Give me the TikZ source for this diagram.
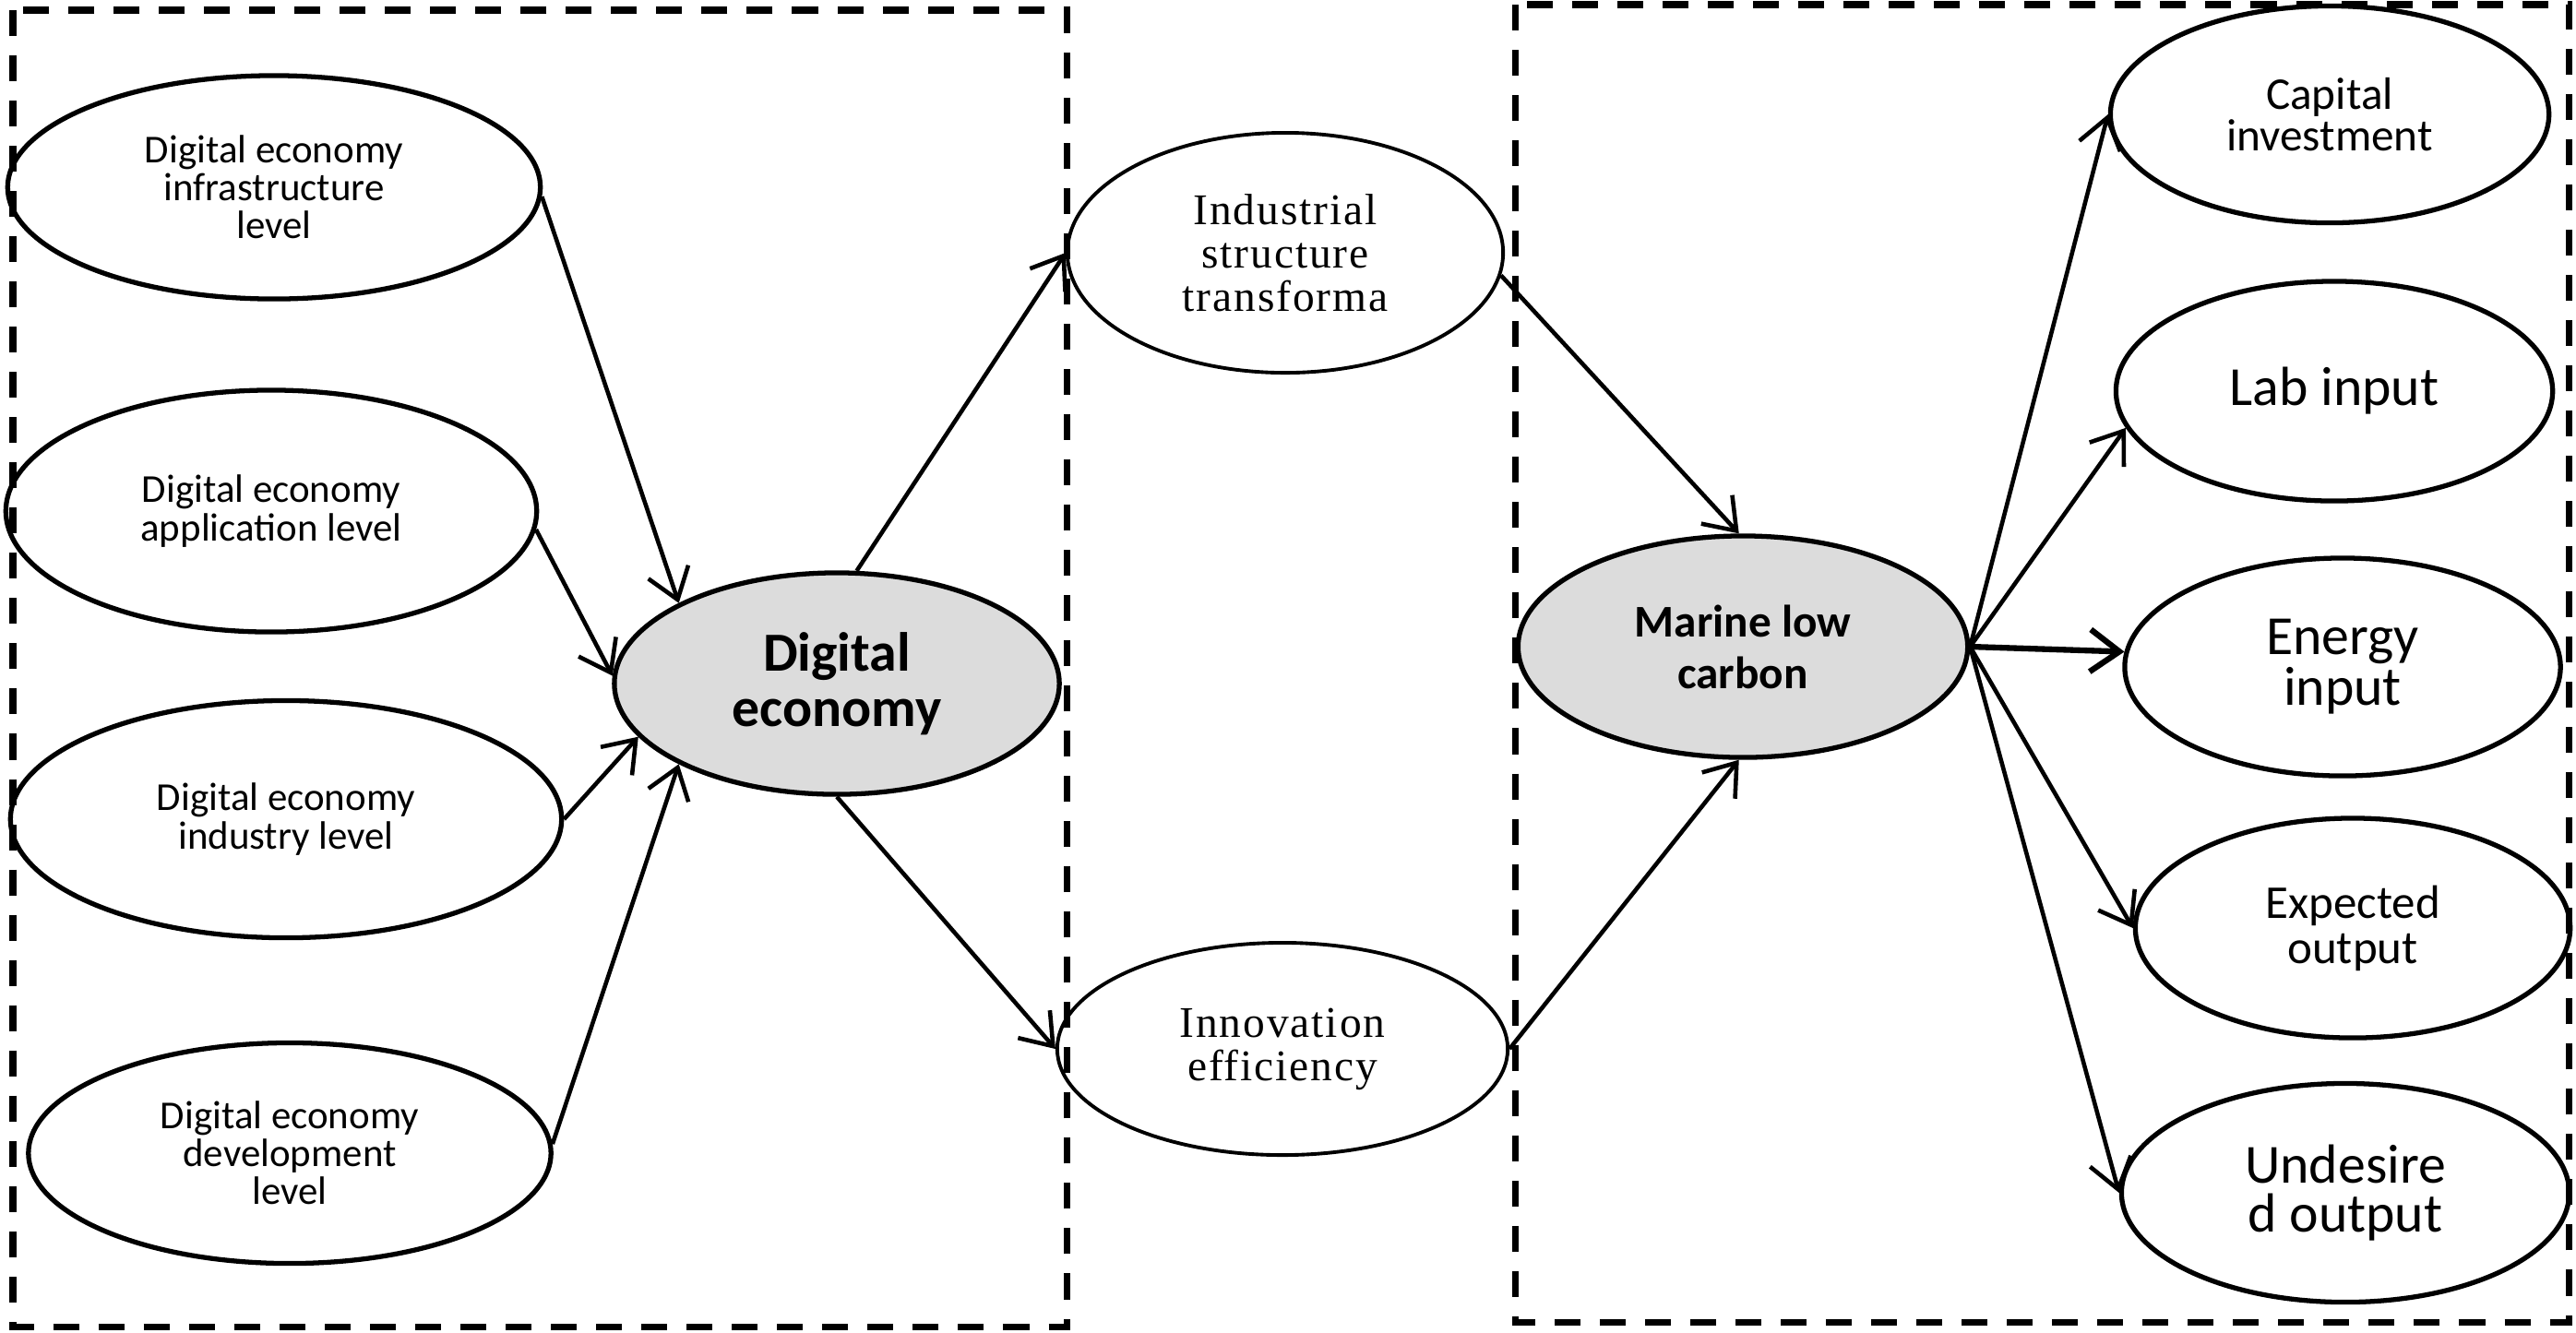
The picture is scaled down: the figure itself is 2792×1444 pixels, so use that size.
\documentclass[tikz,border=0pt]{standalone}
\usepackage{fontspec}
\setmainfont{Carlito}
\newfontfamily\serifsp[LetterSpace=4]{Liberation Serif}
\usetikzlibrary{shapes.geometric,arrows.meta}
\definecolor{coregray}{RGB}{220,220,220}
\begin{document}
\begin{tikzpicture}[x=0.01cm,y=-0.01cm,
  oval/.style={ellipse,draw,line width=1.5pt,fill=white,inner sep=0pt,align=center},
  smalloval/.style={oval,font=\fontsize{12.2}{11.7}\selectfont},
  seroval/.style={oval,line width=1.1pt,font=\serifsp\fontsize{13.5}{13.3}\selectfont},
  coreoval/.style={oval,fill=coregray,font=\bfseries},
  arr/.style={line width=1.3pt,-{Straight Barb[length=9pt,width=13pt]}},
  dashbox/.style={line width=2pt,dash pattern=on 0.28cm off 0.21cm}
]
\useasboundingbox (0,0) rectangle (2792,1444);

% left group
\node[smalloval,minimum width=5.77cm,minimum height=2.42cm] (inf) at (297,203) {Digital economy\\infrastructure\\level};
\node[smalloval,minimum width=5.75cm,minimum height=2.62cm] (app) at (294,554) {Digital economy\\application level};
\node[smalloval,minimum width=5.97cm,minimum height=2.57cm] (ind) at (310,888) {Digital economy\\industry level};
\node[smalloval,minimum width=5.66cm,minimum height=2.39cm] (dev) at (314,1250) {Digital economy\\development\\level};
\node[coreoval,minimum width=4.82cm,minimum height=2.40cm,font=\bfseries\fontsize{17}{17}\selectfont] (de) at (907,741) {Digital\\economy};

% middle
\node[seroval,minimum width=4.72cm,minimum height=2.60cm] (ist) at (1393,274) {Industrial\\structure\\transforma};
\node[seroval,minimum width=4.88cm,minimum height=2.30cm] (inn) at (1390,1137) {Innovation\\efficiency};

% right group
\node[coreoval,minimum width=4.87cm,minimum height=2.40cm,font=\bfseries\fontsize{14}{15.9}\selectfont] (mlc) at (1889,701) {Marine low\\carbon};
\node[oval,minimum width=4.75cm,minimum height=2.35cm,font=\fontsize{14}{12.8}\selectfont] (cap) at (2525,124) {Capital\\investment};
\node[oval,minimum width=4.73cm,minimum height=2.38cm,font=\fontsize{17}{17}\selectfont] (lab) at (2530,424) {Lab input};
\node[oval,minimum width=4.72cm,minimum height=2.36cm,font=\fontsize{17}{14.5}\selectfont] (ene) at (2539,723) {Energy\\input};
\node[oval,minimum width=4.71cm,minimum height=2.38cm,font=\fontsize{14.5}{14}\selectfont] (exp) at (2550,1006) {Expected\\output};
\node[oval,minimum width=4.85cm,minimum height=2.37cm,font=\fontsize{17}{15}\selectfont] (und) at (2542,1293) {Undesire\\d output};

% connectors
\draw[arr] (inf.-2) -- (de.153);
\draw[arr] (app.-4) -- (de.178);
\draw[arr] (ind.east) -- (de.195);
\draw[arr] (dev.2) -- (de.207);
\draw[arr] (de.80) -- (ist.west);
\draw[arr] (de.south) -- (inn.west);
\draw[arr] (ist.-6) -- (mlc.92);
\draw[arr] (inn.east) -- (mlc.268);
\draw[arr] (mlc.east) -- (cap.west);
\draw[arr] (mlc.east) -- (lab.190);
\draw[arr,line width=1.8pt] (mlc.east) -- (ene.176);
\draw[arr] (mlc.east) -- (exp.west);
\draw[arr] (mlc.east) -- (und.west);

% dashed frames
\draw[dashbox] (14,11) rectangle (1156,1438);
\draw[dashbox] (1642,5) rectangle (2784,1433);
\end{tikzpicture}
\end{document}
